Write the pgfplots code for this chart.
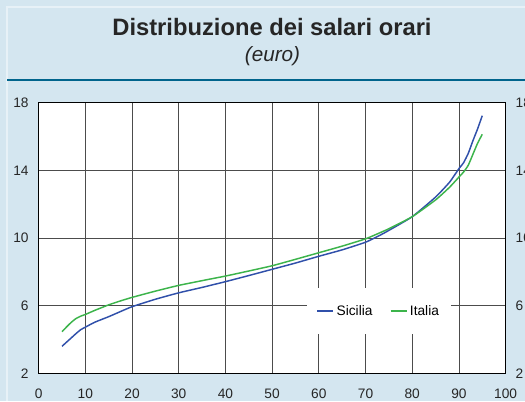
\documentclass[border=0pt]{standalone}
\usepackage{pgfplots}
\pgfplotsset{compat=1.18}
\usepackage{fontspec}
\setmainfont{Liberation Sans}
\definecolor{bgblue}{RGB}{212,230,240}
\definecolor{teal}{RGB}{0,100,140}
\definecolor{sicblue}{RGB}{48,80,170}
\definecolor{itgreen}{RGB}{60,180,75}
\begin{document}
\begin{tikzpicture}
\clip (0pt,0pt) rectangle (393.75pt,-300.75pt);
\fill[bgblue] (0pt,0pt) rectangle (393.75pt,-300.75pt);
\draw[white!45!bgblue,line width=0.8pt] (5.25pt,-300.75pt) -- (5.25pt,-5.25pt) -- (393.75pt,-5.25pt);
\draw[teal,line width=1.6pt] (5.25pt,-60pt) -- (393.75pt,-60pt);
\node[anchor=base,inner sep=0pt,text=black!85] at (204pt,-26.25pt) {\fontsize{17.8}{20}\selectfont\bfseries Distribuzione dei salari orari};
\node[anchor=base,inner sep=0pt,text=black!85] at (204.4pt,-46.3pt) {\fontsize{15.5}{18}\selectfont\itshape (euro)};
\begin{axis}[
  at={(29.0pt,-280.0pt)}, anchor=south west,
  scale only axis, width=350.2pt, height=203pt,
  xmin=0, xmax=100, ymin=2, ymax=18,
  xtick={0,10,...,100}, ytick={2,6,10,14,18},
  axis background/.style={fill=white},
  axis line style={black, line width=0.8pt},
  grid=major,
  major grid style={black!70, line width=0.6pt},
  major tick length=0pt,
  /pgf/number format/assume math mode=true,
  tick label style={font=\fontsize{10.3}{12}\selectfont, text=black!85},
  yticklabel style={xshift=-4pt},
  xticklabel style={yshift=-8pt},
  legend columns=2,
  legend style={at={(0.729,0.230)}, anchor=center, draw=none, fill=white,
    inner xsep=7pt, inner ysep=11pt, font=\fontsize{10.3}{12}\selectfont,
    /tikz/every even column/.append style={column sep=11pt}},
  legend image code/.code={\draw[#1] (0pt,0pt) -- (12pt,0pt);},
  legend cell align=left,
]
\addplot[sicblue, line width=1.1pt, smooth, tension=0.3] coordinates {
(5,3.6)(6,3.85)(7,4.1)(8,4.35)(9,4.58)(10,4.73)(12,5.02)(15,5.35)(17.5,5.65)(20,5.94)(25,6.38)(30,6.76)(35,7.08)(40,7.42)(45,7.78)(50,8.15)(55,8.52)(60,8.92)(65,9.3)(70,9.75)(73,10.15)(75,10.45)(80,11.26)(85,12.42)(88,13.3)(90,14.1)(91,14.45)(92,15.0)(93,15.75)(94,16.45)(95,17.23)};
\addlegendentry{Sicilia}
\addplot[itgreen, line width=1.1pt, smooth, tension=0.3] coordinates {
(5,4.46)(6,4.75)(7,5.02)(8,5.24)(9,5.38)(10,5.48)(12,5.72)(15,6.05)(17.5,6.28)(20,6.49)(25,6.86)(30,7.2)(35,7.48)(40,7.75)(45,8.05)(50,8.36)(55,8.74)(60,9.13)(65,9.52)(70,9.95)(73,10.3)(75,10.55)(80,11.26)(85,12.25)(88,13.0)(90,13.6)(91,13.9)(92,14.3)(93,14.95)(94,15.6)(95,16.13)};
\addlegendentry{Italia}
\end{axis}
\begin{axis}[
  at={(29.0pt,-280.0pt)}, anchor=south west,
  scale only axis, width=350.2pt, height=203pt,
  xmin=0, xmax=100, ymin=2, ymax=18,
  ytick={2,6,10,14,18},
  hide x axis, axis y line*=right,
  axis line style={draw=none},
  major tick length=0pt,
  /pgf/number format/assume math mode=true,
  tick label style={font=\fontsize{10.3}{12}\selectfont, text=black!85},
  yticklabel style={xshift=4pt},
]
\addplot[draw=none] coordinates {(0,2)(100,18)};
\end{axis}
\end{tikzpicture}
\end{document}
